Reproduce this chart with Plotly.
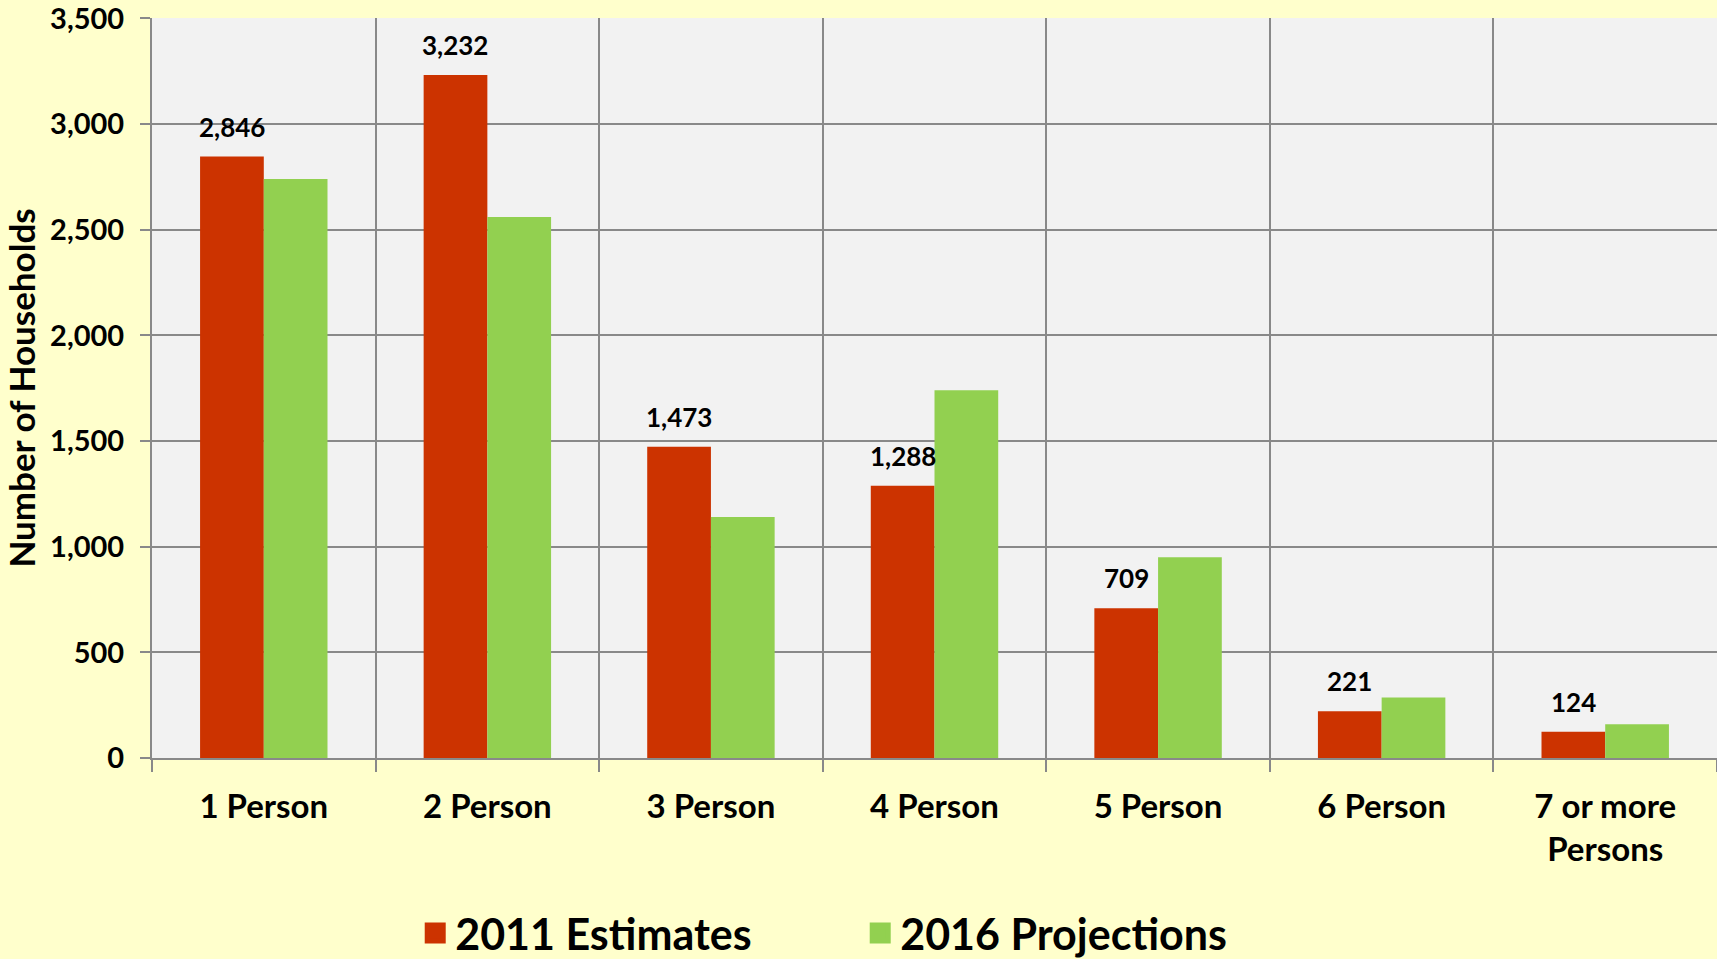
import plotly.graph_objects as go

# household size categories and counts
categories = ["1 Person", "2 Person", "3 Person", "4 Person",
              "5 Person", "6 Person", "7 or more<br>Persons"]
est_2011 = [2846, 3232, 1473, 1288, 709, 221, 124]
proj_2016 = [2740, 2560, 1140, 1740, 950, 286, 160]
y_ticks = [0, 500, 1000, 1500, 2000, 2500, 3000, 3500]

font_family = "Lato, 'Open Sans', sans-serif"
grid_col = "#898989"
red = "#CC3300"
green = "#92D050"

fig = go.Figure()
fig.add_trace(go.Bar(
    x=categories, y=est_2011, name="2011 Estimates", showlegend=False,
    marker=dict(color=red, line=dict(width=0)),
))
fig.add_trace(go.Bar(
    x=categories, y=proj_2016, name="2016 Projections", showlegend=False,
    marker=dict(color=green, line=dict(width=0)),
))
# legend entries with larger square swatches
for name, col in [("2011 Estimates", red), ("2016 Projections", green)]:
    fig.add_trace(go.Scatter(
        x=[None], y=[None], mode="markers", name=name,
        marker=dict(symbol="square", size=27, color=col,
                    line=dict(width=5, color=col)),
    ))

# value labels above the 2011 bars
for cat, val in zip(categories, est_2011):
    fig.add_annotation(
        x=cat, y=val, text=f"{val:,}", showarrow=False,
        xshift=-32, yshift=30, yanchor="middle",
        font=dict(family=font_family, size=26, color="black", weight="bold"),
    )

fig.update_layout(
    width=1717, height=959,
    barmode="group", bargap=0.43, bargroupgap=0,
    paper_bgcolor="#FFFFCC", plot_bgcolor="#F2F2F2",
    margin=dict(l=152, r=0, t=15, b=201),
    font=dict(family=font_family, color="black", weight="bold"),
    legend=dict(
        orientation="h", xref="container", yref="container",
        x=0.501, y=0.027, xanchor="center", yanchor="middle",
        font=dict(size=43, family=font_family, weight="bold"),
        itemsizing="trace", entrywidth=400, bgcolor="rgba(0,0,0,0)",
    ),
)
fig.update_xaxes(
    tickson="boundaries", showgrid=True, gridcolor=grid_col, gridwidth=2,
    ticks="outside", ticklen=12, tickwidth=2, tickcolor=grid_col,
    showline=True, linecolor=grid_col, linewidth=2,
    tickfont=dict(size=33, family=font_family, weight="bold"),
    ticklabelstandoff=18,
)
fig.update_yaxes(
    range=[0, 3502], tickvals=y_ticks, tickformat=",",
    showgrid=True, gridcolor=grid_col, gridwidth=2,
    ticks="outside", ticklen=10, tickwidth=2, tickcolor=grid_col,
    showline=True, linecolor=grid_col, linewidth=2, zeroline=False,
    tickfont=dict(size=29, family=font_family, weight="bold"),
    ticklabelstandoff=10, ticklabeloverflow="allow",
    title=dict(text="Number of Households", standoff=8,
               font=dict(size=35, family=font_family, weight="bold")),
)

fig.write_html("out.html", config={"displayModeBar": False},
               post_script="document.body.style.margin='0';")
